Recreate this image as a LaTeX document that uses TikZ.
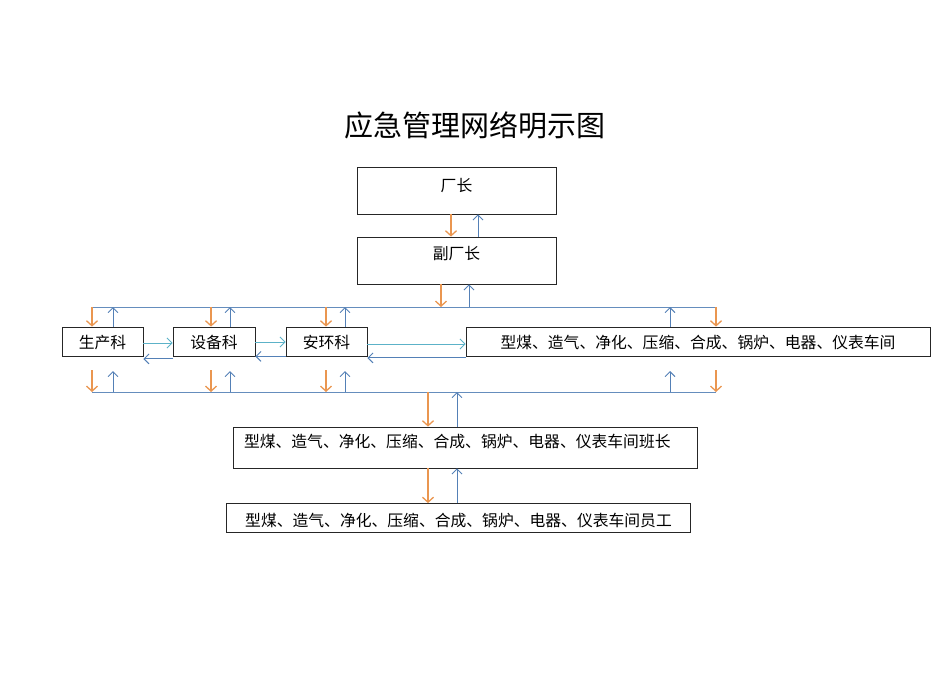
\documentclass[tikz,border=0pt]{standalone}
\usepackage{fontspec}
\setmainfont{Noto Sans CJK SC}
\usetikzlibrary{arrows.meta,calc}

\definecolor{jiang}{RGB}{234,150,80}
\definecolor{lan}{RGB}{84,128,182}
\definecolor{qing}{RGB}{92,178,200}

\tikzset{
  kuang/.style={draw=black!85, line width=0.8pt, inner sep=0pt, font=\fontsize{15.8}{16}\selectfont},
  xia/.style={draw=jiang, line width=1.3pt, -{Straight Barb[length=5pt,width=11pt]}},
  shang/.style={draw=lan, line width=0.9pt, -{Straight Barb[length=5pt,width=10pt]}},
  you/.style={draw=qing, line width=0.9pt, -{Straight Barb[length=5pt,width=10pt]}},
  zuo/.style={draw=lan, line width=0.9pt, -{Straight Barb[length=5pt,width=10pt]}},
  zongxian/.style={draw=lan!90, line width=0.9pt}
}

\begin{document}
\begin{tikzpicture}[x=1pt,y=-1pt]
\useasboundingbox (0,0) rectangle (950,672);

% title
\node (biaoti) at (475,125) {\fontsize{29}{30}\selectfont 应急管理网络明示图};

% leaders
\node[kuang, minimum width=199pt, text height=24pt, text depth=23pt] (cz) at (456.5,190.5) {厂长};
\node[kuang, minimum width=199pt, text height=22pt, text depth=25pt] (fcz) at (456.5,260.5) {副厂长};

% departments
\node[kuang, minimum width=81pt, text height=21pt, text depth=8pt] (sc) at (102.5,341.5) {生产科};
\node[kuang, minimum width=82pt, text height=21pt, text depth=8pt] (sb) at (214,341.5) {设备科};
\node[kuang, minimum width=81pt, text height=21pt, text depth=8pt] (ah) at (326.5,341.5) {安环科};
\node[kuang, minimum width=464pt, text height=21pt, text depth=8pt] (cj) at (698,341.5) {型煤、造气、净化、压缩、合成、锅炉、电器、仪表车间};

% shift leaders and staff
\node[kuang, text width=442pt, inner xsep=11pt, align=left, text height=20pt, text depth=21pt] (bz) at (465,447.5) {型煤、造气、净化、压缩、合成、锅炉、电器、仪表车间班长};
\node[kuang, minimum width=464pt, text height=23pt, text depth=6pt] (yg) at (458.5,518) {型煤、造气、净化、压缩、合成、锅炉、电器、仪表车间员工};

% buses
\coordinate (sz) at (92,307);
\coordinate (sy) at (716,307);
\coordinate (xz) at (92,392);
\coordinate (xy) at (716,392);
\draw[zongxian] (sz) -- (sy);
\draw[zongxian] (xz) -- (xy);

% leader arrows
\draw[xia] (cz.south -| 451,0) -- (fcz.north -| 451,0);
\draw[shang] (fcz.north -| 478,0) -- (cz.south -| 478,0);
\draw[xia] (fcz.south -| 441,0) -- (sz -| 441,0);
\draw[shang] (sz -| 469,0) -- (fcz.south -| 469,0);

% bus to departments
\foreach \n/\o/\b in {sc/92/113, sb/211/230, ah/326/345, cj/716/670} {
  \draw[xia] (sz -| \o,0) -- (\n.north -| \o,0);
  \draw[shang] (\n.north -| \b,0) -- (sz -| \b,0);
  \draw[xia] ($(xz -| \o,0)+(0,-22)$) -- (xz -| \o,0);
  \draw[shang] (xz -| \b,0) -- ($(xz -| \b,0)+(0,-21)$);
}

% between departments
\draw[you] ($(sc.east)+(0,1.5)$) -- ($(sb.west)+(0,1.5)$);
\draw[zuo] ($(sb.south west)+(0,2.5)$) -- ($(sc.south east)+(0,2.5)$);
\draw[you] ($(sb.east)+(0,0.5)$) -- ($(ah.west)+(0,0.5)$);
\draw[zuo] (ah.south west) -- (sb.south east);
\draw[you] ($(ah.east)+(0,2.5)$) -- ($(cj.west)+(0,2.5)$);
\draw[zuo] ($(cj.south west)+(0,1.5)$) -- ($(ah.south east)+(0,1.5)$);

% down to shift leaders and staff
\draw[xia] (xz -| 428,0) -- (bz.north -| 428,0);
\draw[shang] (bz.north -| 457,0) -- (xz -| 457,0);
\draw[xia] (bz.south -| 428,0) -- (yg.north -| 428,0);
\draw[shang] (yg.north -| 457,0) -- (bz.south -| 457,0);
\end{tikzpicture}
\end{document}
